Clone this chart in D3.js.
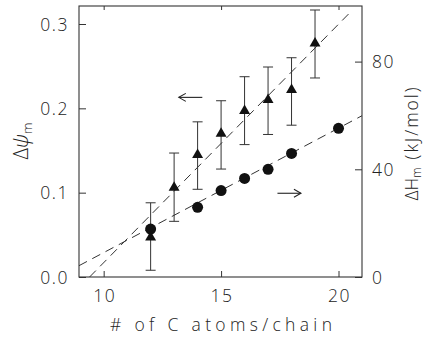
<!DOCTYPE html>
<html><head><meta charset="utf-8">
<script src="https://cdn.jsdelivr.net/npm/d3@7"></script>
<style>
html,body{margin:0;padding:0;background:#fff;}
text{font-family:"Open Sans","DejaVu Sans",sans-serif;font-weight:300;fill:#222;}
</style></head>
<body><svg id="c" width="427" height="338"></svg>
<script>
// Data
const carbonsPsi = [12, 13, 14, 15, 16, 17, 18, 19];
const deltaPsi   = [0.047, 0.106, 0.145, 0.170, 0.197, 0.210, 0.222, 0.277];
const psiUpper   = [0.088, 0.147, 0.184, 0.209, 0.2375, 0.249, 0.260, 0.3166];
const psiLower   = [0.008, 0.066, 0.104, 0.128, 0.157, 0.169, 0.180, 0.236];
const carbonsH   = [12, 14, 15, 16, 17, 18, 20];
const deltaH     = [17.8, 25.9, 32.1, 36.6, 40.0, 45.9, 55.2];
const fitPsi     = [[9.4, 0.0], [20.45, 0.3125]];
const fitH       = [[8.95, 4.2], [21.0, 59.9]];
const xTicks     = [10, 15, 20];
const yLTicks    = [0.0, 0.1, 0.2, 0.3];
const yRTicks    = [0, 40, 80];

const svg = d3.select("#c");
const L = 79, R = 362, T = 6, B = 277;
const x  = d3.scaleLinear().domain([8.95, 21]).range([L, R]);
const yL = d3.scaleLinear().domain([0, 0.32135]).range([B, T]);
const yR = d3.scaleLinear().domain([0, 100.65]).range([B, T]);

const ink = "#333";
svg.append("rect").attr("x", L).attr("y", T).attr("width", R - L).attr("height", B - T)
  .attr("fill", "none").attr("stroke", ink).attr("stroke-width", 1.1);

const axB = svg.append("g").attr("transform", `translate(0,${B})`)
  .call(d3.axisTop(x).tickValues(xTicks).tickSize(6).tickFormat(""));
const axT = svg.append("g").attr("transform", `translate(0,${T})`)
  .call(d3.axisBottom(x).tickValues(xTicks).tickSize(4).tickFormat(""));
const axL = svg.append("g").attr("transform", `translate(${L},0)`)
  .call(d3.axisRight(yL).tickValues(yLTicks).tickSize(7).tickFormat(""));
const axR = svg.append("g").attr("transform", `translate(${R},0)`)
  .call(d3.axisLeft(yR).tickValues(yRTicks).tickSize(7).tickFormat(""));
[axB, axT, axL, axR].forEach(g => {
  g.select(".domain").remove();
  g.selectAll("line").attr("stroke", ink).attr("stroke-width", 1);
});

const fs = 17.5;
svg.append("g").selectAll("text").data(xTicks).join("text")
  .attr("x", d => x(d) + 1).attr("y", 302).attr("text-anchor", "middle")
  .attr("font-size", fs).attr("letter-spacing", 1.5).text(d => d);
svg.append("g").selectAll("text").data(yLTicks).join("text")
  .attr("x", 69).attr("y", d => yL(d) + 6.5).attr("text-anchor", "end")
  .attr("font-size", fs).attr("letter-spacing", 1.5).text(d => d.toFixed(1));
svg.append("g").selectAll("text").data(yRTicks).join("text")
  .attr("x", 372).attr("y", d => yR(d) + 6.5).attr("text-anchor", "start")
  .attr("font-size", fs).attr("letter-spacing", 1.5).text(d => d);

svg.append("text").attr("x", 110).attr("y", 331)
  .attr("font-size", fs).attr("textLength", 222).attr("lengthAdjust", "spacing")
  .text("# of C atoms/chain");

const tl = svg.append("text").attr("transform", "translate(28,141) rotate(-90)")
  .attr("text-anchor", "middle").attr("font-size", 20);
tl.append("tspan").text("Δ");
tl.append("tspan").attr("font-style", "italic").text("ψ");
tl.append("tspan").attr("font-size", 13).attr("dy", 4).text("m");

const tr = svg.append("text").attr("transform", "translate(418,143) rotate(-90)")
  .attr("text-anchor", "middle").attr("font-size", 17.5);
tr.append("tspan").text("ΔH");
tr.append("tspan").attr("font-size", 12).attr("dy", 3).text("m");
tr.append("tspan").attr("dy", -3).attr("dx", 8).attr("letter-spacing", 2).text("(kJ/mol)");

const lineL = d3.line().x(d => x(d[0])).y(d => yL(d[1]));
const lineR = d3.line().x(d => x(d[0])).y(d => yR(d[1]));
svg.append("path").attr("d", lineL(fitPsi)).attr("fill", "none").attr("stroke", ink)
  .attr("stroke-width", 1).attr("stroke-dasharray", "9,6");
svg.append("path").attr("d", lineR(fitH)).attr("fill", "none").attr("stroke", ink)
  .attr("stroke-width", 1).attr("stroke-dasharray", "9,6");

const eb = svg.append("g").attr("stroke", ink).attr("stroke-width", 1);
carbonsPsi.forEach((c, i) => {
  const cx = x(c);
  eb.append("line").attr("x1", cx).attr("x2", cx).attr("y1", yL(psiUpper[i])).attr("y2", yL(psiLower[i]));
  eb.append("line").attr("x1", cx - 5).attr("x2", cx + 5).attr("y1", yL(psiUpper[i])).attr("y2", yL(psiUpper[i]));
  eb.append("line").attr("x1", cx - 5).attr("x2", cx + 5).attr("y1", yL(psiLower[i])).attr("y2", yL(psiLower[i]));
});

svg.append("g").selectAll("circle").data(carbonsH).join("circle")
  .attr("cx", d => x(d)).attr("cy", (d, i) => yR(deltaH[i])).attr("r", 5.5).attr("fill", "#111");

const tri = d3.symbol().type(d3.symbolTriangle).size(52);
svg.append("g").selectAll("path").data(carbonsPsi).join("path")
  .attr("d", tri).attr("fill", "#111")
  .attr("transform", (d, i) => `translate(${x(d)},${yL(deltaPsi[i])})`);

function arrow(x1, x2, y) {
  const g = svg.append("g").attr("stroke", "#222").attr("stroke-width", 1.1).attr("fill", "none");
  g.append("line").attr("x1", x1).attr("x2", x2).attr("y1", y).attr("y2", y);
  const dir = Math.sign(x2 - x1);
  g.append("path").attr("d", `M${x2 - dir * 7},${y - 4} L${x2},${y} L${x2 - dir * 7},${y + 4}`);
}
arrow(x(14.2), x(13.2), yL(0.213));
arrow(x(17.4), x(18.4), yR(31.1));
</script></body></html>
